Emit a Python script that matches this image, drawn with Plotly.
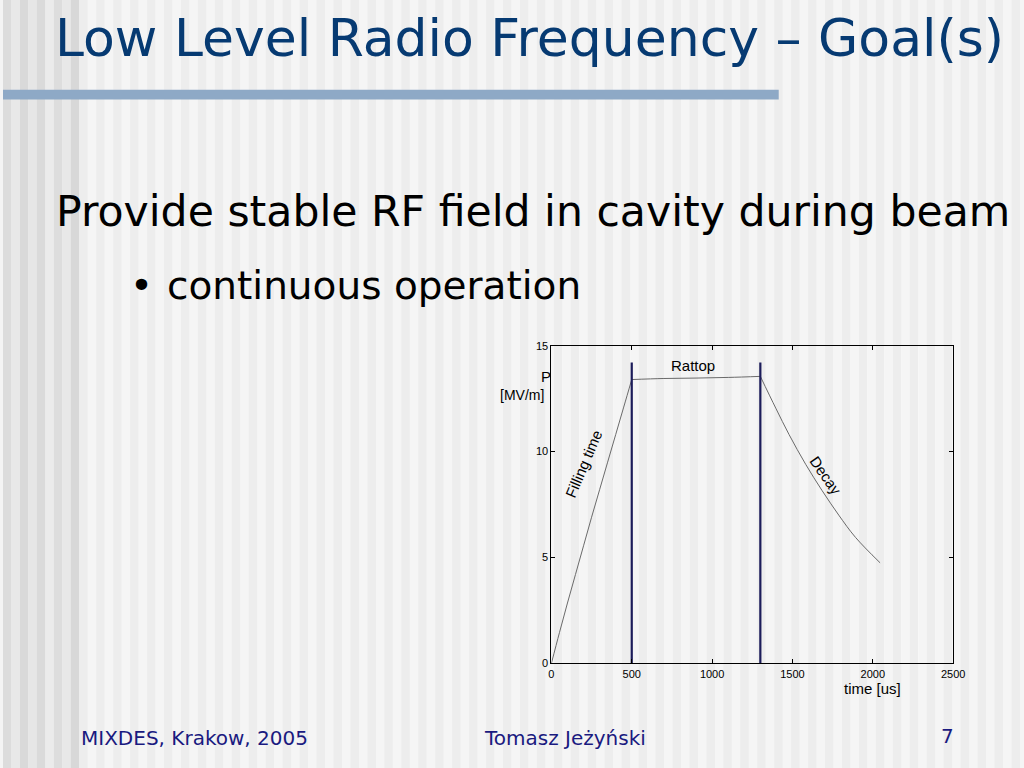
import plotly.graph_objects as go

REF_W, REF_H = 1024, 768
W, H = 1036, 777

# ---- data ----
fill_t = [0, 50, 100, 150, 200, 250, 300, 350, 400, 450, 500]
fill_p = [0, 1.45, 2.85, 4.2, 5.55, 6.9, 8.2, 9.5, 10.8, 12.1, 13.4]
flat_t = [500, 700, 900, 1100, 1300]
flat_p = [13.4, 13.45, 13.47, 13.5, 13.55]
decay_t = [1300, 1396, 1479, 1582, 1685, 1788, 1892, 2045]
decay_p = [13.55, 12.05, 10.8, 9.4, 8.15, 7.0, 5.95, 4.75]
marker_t = [500, 1300]
marker_top = 14.2
x_ticks = [0, 500, 1000, 1500, 2000, 2500]
y_ticks = [0, 5, 10, 15]


def px(x):
    return x / REF_W


def py(y):
    return 1 - y / REF_H


fig = go.Figure()
for tt, pp in [(fill_t, fill_p), (flat_t, flat_p), (decay_t, decay_p)]:
    fig.add_trace(go.Scatter(x=tt, y=pp, mode="lines",
                             line=dict(color="#6a6a6a", width=1, shape="spline", smoothing=1.0),
                             showlegend=False, hoverinfo="skip"))
for t in marker_t:
    fig.add_trace(go.Scatter(x=[t, t], y=[0, marker_top], mode="lines",
                             line=dict(color="#1c1c5a", width=2.2), showlegend=False,
                             hoverinfo="skip"))

shapes = []
# background stripes
left_cols = ["#dcdcdc", "#e8e8e8", "#d9d9d9", "#e6e6e6", "#dadada", "#ebebeb",
             "#dddddd", "#e8e8e8", "#d8d8d8"]
x = 0
i = 0
while x < REF_W:
    w = 8.5
    if i < len(left_cols):
        col = left_cols[i]
    else:
        col = "#f5f5f5" if i % 2 == 0 else "#ededed"
    shapes.append(dict(type="rect", xref="paper", yref="paper", x0=px(x), x1=px(x + w),
                       y0=-0.02, y1=1.02, fillcolor=col, line=dict(width=0), layer="below"))
    x += w
    i += 1
# title bar
shapes.append(dict(type="rect", xref="paper", yref="paper", x0=0, x1=px(778),
                   y0=py(97), y1=py(87), fillcolor="#8ea9c6", line=dict(width=0), layer="below"))

ann = []


def txt(t, x, y, size, color, family, xanchor="left", angle=0, xref="paper", yref="paper"):
    ann.append(dict(text=t, x=x, y=y, xref=xref, yref=yref, showarrow=False,
                    xanchor=xanchor, yanchor="middle", textangle=angle, borderpad=0,
                    font=dict(size=size, color=color, family=family)))


navy = "#063a72"
txt("Low Level Radio Frequency – Goal(s)", px(51), py(35), 52, navy, "DejaVu Sans")
txt("Provide stable RF field in cavity during beam", px(52), py(209), 42.6, "#000000", "DejaVu Sans")
txt("•", px(139), py(284), 39, "#000000", "DejaVu Sans", xanchor="center")
txt("continuous operation", px(163), py(284), 39, "#000000", "DejaVu Sans")
foot = "#1a1a80"
txt("MIXDES, Krakow, 2005", px(77), py(738), 20, foot, "DejaVu Sans")
txt("Tomasz Jeżyński", px(564), py(738), 20, foot, "DejaVu Sans", xanchor="center")
txt("7", px(947), py(736), 20, foot, "DejaVu Sans", xanchor="center")

sans = "Liberation Sans, Arial"
txt("P", px(545), py(375), 15, "#000000", sans, xanchor="center")
txt("[MV/m]", px(521), py(394), 14, "#000000", sans, xanchor="center")
txt("time [us]", px(872), py(688), 15, "#000000", sans, xanchor="center")
txt("Rattop", 879, 14.07, 15, "#000000", sans, xanchor="center", xref="x", yref="y")
txt("Filling time", 203, 9.42, 15, "#000000", sans, xanchor="center", angle=-67, xref="x", yref="y")
txt("Decay", 1706, 8.86, 15, "#000000", sans, xanchor="center", angle=55, xref="x", yref="y")

axis_common = dict(showgrid=False, zeroline=False, ticks="inside", ticklen=4,
                   tickcolor="#000000", showline=True, linecolor="#000000", linewidth=1,
                   mirror="ticks", tickfont=dict(size=11, family=sans, color="#000000"))

fig.update_layout(
    width=W, height=H, margin=dict(l=0, r=0, t=0, b=0),
    paper_bgcolor="#f4f4f4", plot_bgcolor="#ffffff",
    shapes=shapes, annotations=ann,
    xaxis=dict(range=[0, 2500], tickvals=x_ticks, domain=[px(550), px(953)], **axis_common),
    yaxis=dict(range=[0, 15], tickvals=y_ticks, domain=[py(663), py(344)], **axis_common),
)

post = ("document.documentElement.style.margin='0';document.body.style.margin='0';"
        "document.documentElement.style.background='#f4f4f4';"
        "document.documentElement.style.overflow='hidden';document.body.style.overflow='hidden';"
        "var d=document.getElementById('{plot_id}');d.style.position='fixed';"
        "d.style.left='0px';d.style.top='-3px';")
fig.write_html("out.html", post_script=post, config={"displayModeBar": False})
